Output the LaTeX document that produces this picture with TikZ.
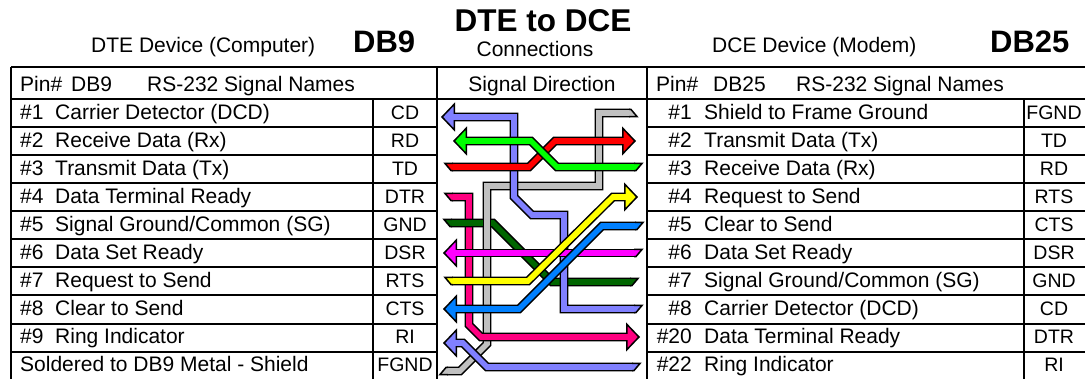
\documentclass[tikz,border=0pt]{standalone}
\usepackage{fontspec}
\setmainfont{Liberation Sans}
\usepackage{tikz}
\usetikzlibrary{arrows.meta}
\definecolor{wireperi}{HTML}{8080FF}
\definecolor{wirered}{HTML}{FF0000}
\definecolor{wiregreen}{HTML}{00FF00}
\definecolor{wiregray}{HTML}{C0C0C0}
\definecolor{wirepink}{HTML}{FF0080}
\definecolor{wiredark}{HTML}{006600}
\definecolor{wiremag}{HTML}{FF00FF}
\definecolor{wireyel}{HTML}{FFFF00}
\definecolor{wireblue}{HTML}{0080FF}
\newcommand{\bodysize}{\fontsize{21}{24}\selectfont}

\begin{document}
\begin{tikzpicture}[
  x=1pt, y=-1pt,
  every node/.style={inner sep=0pt, font=\bodysize},
  txt/.style={anchor=base west},
  code/.style={anchor=base, font=\fontsize{19.5}{24}\selectfont},
  title/.style={anchor=base west, font=\fontsize{31}{36}\selectfont\bfseries},
  grid/.style={line width=1.4pt},
  wire/.style={line width=1.5pt, double=#1, double distance=5.6pt, miter limit=20},
  head/.style={-{Triangle[length=14pt, width=29pt, line width=1.5pt, fill=#1]}},
  tailcap/.pic={\filldraw[pic actions, line width=1.5pt] (1,-3.55) -- (-7,-3.55) -- (-1,3.55) -- (1,3.55);},
]
  \useasboundingbox (0,0) rectangle (1085,379);

  % titles
  \node[txt] (dte) at (91,53) {DTE Device (Computer)};
  \node[title] (db9) at (353,53) {DB9};
  \node[anchor=base, font=\fontsize{31.5}{36}\selectfont\bfseries] (mid) at (543,32) {DTE to DCE};
  \node[anchor=base] (conn) at (535,57) {Connections};
  \node[txt] (dce) at (712,53) {DCE Device (Modem)};
  \node[title] (db25) at (990,53) {DB25};

  % grid
  \draw[grid] (11,67) -- (1085,67);
  \draw[grid] (11,99) -- (1085,99);
  \foreach \rowy in {127,155,183,211,239,267,295,324,352} {
    \draw[grid] (11,\rowy) -- (437,\rowy);
    \draw[grid] (647,\rowy) -- (1085,\rowy);
  }
  \foreach \colx in {11,437,647} \draw[grid] (\colx,67) -- (\colx,379);
  \foreach \colx in {373,1024} \draw[grid] (\colx,99) -- (\colx,379);

  % header row
  \node[txt] (lhpin) at (20,92) {Pin\#};
  \node[txt] (lhdb) at (71,92) {DB9};
  \node[txt] (lhsig) at (147,92) {RS-232 Signal Names};
  \node[anchor=base] (mhead) at (542,92) {Signal Direction};
  \node[txt] (rhpin) at (656,92) {Pin\#};
  \node[txt] (rhdb) at (713,92) {DB25};
  \node[txt] (rhsig) at (796,92) {RS-232 Signal Names};

  % left table
  \foreach \pin/\sname/\scode [count=\i from 0] in {
    \#1/Carrier Detector (DCD)/CD, \#2/Receive Data (Rx)/RD, \#3/Transmit Data (Tx)/TD,
    \#4/Data Terminal Ready/DTR, \#5/{Signal Ground/Common (SG)}/GND, \#6/Data Set Ready/DSR,
    \#7/Request to Send/RTS, \#8/Clear to Send/CTS, \#9/Ring Indicator/RI} {
    \node[txt] (lpin\i) at (20,120+28*\i) {\pin};
    \node[txt] (lname\i) at (55,120+28*\i) {\sname};
    \node[code] (lcode\i) at (405,120+28*\i) {\scode};
  }
  \node[txt] (lshield) at (20,372) {Soldered to DB9 Metal - Shield};
  \node[code] (lfgnd) at (405,372) {FGND};

  % right table
  \foreach \pin/\sname/\scode [count=\i from 0] in {
    \#1/Shield to Frame Ground/FGND, \#2/Transmit Data (Tx)/TD, \#3/Receive Data (Rx)/RD,
    \#4/Request to Send/RTS, \#5/Clear to Send/CTS, \#6/Data Set Ready/DSR,
    \#7/{Signal Ground/Common (SG)}/GND, \#8/Carrier Detector (DCD)/CD,
    \#20/Data Terminal Ready/DTR, \#22/Ring Indicator/RI} {
    \node[anchor=base east] (rpin\i) at (692,120+28*\i) {\pin};
    \node[txt] (rname\i) at (704,120+28*\i) {\sname};
    \node[code] (rcode\i) at (1054,120+28*\i) {\scode};
  }

  % wire ends
  \coordinate (tcd) at (441,117);  \coordinate (ecd) at (635,309);
  \coordinate (trd) at (453,141);  \coordinate (erd) at (635,167);
  \coordinate (ttd) at (636,141);  \coordinate (etd) at (452,167);
  \coordinate (tdtr) at (640,337); \coordinate (edtr) at (452,197);
  \coordinate (egl) at (451,223);  \coordinate (egr) at (631,282);
  \coordinate (tdsr) at (443,253); \coordinate (edsr) at (635,253);
  \coordinate (trts) at (638,197); \coordinate (erts) at (452,281);
  \coordinate (tcts) at (443,309); \coordinate (ects) at (636,226);
  \coordinate (tri) at (443,343);  \coordinate (eri) at (633,367);
  \coordinate (efr) at (630,113);  \coordinate (efl) at (447,371);

  % wires, bottom one first
  \draw[wire=wiregray, line join=miter] (efr) -- (599,113) -- (599,186) -- (487,186) -- (487,344) -- (460,371) -- (efl);
  \pic[draw=black, fill=wiregray, xscale=-1, yscale=-1] at (efr) {tailcap};
  \pic[draw=black, fill=wiregray, yscale=-1] at (efl) {tailcap};

  \draw[wire=wirepink, head=wirepink] (edtr) -- (469,197) -- (469,325) -- (481,337) -- (tdtr);
  \pic[draw=black, fill=wirepink] at (edtr) {tailcap};

  \draw[wire=wiredark] (egl) -- (493,223) -- (552,282) -- (egr);
  \pic[draw=black, fill=wiredark] at (egl) {tailcap};
  \pic[draw=black, fill=wiredark, xscale=-1] at (egr) {tailcap};
  \draw[wire=wiregray] (487,210) -- (487,236);

  \draw[wire=wireperi, head=wireperi] (ecd) -- (564,309) -- (564,215) -- (532,215) -- (514,197) -- (514,117) -- (tcd);
  \pic[draw=black, fill=wireperi, xscale=-1] at (ecd) {tailcap};

  \draw[wire=wirered, head=wirered] (etd) -- (529,167) -- (555,141) -- (ttd);
  \pic[draw=black, fill=wirered] at (etd) {tailcap};

  \draw[wire=wiregreen, head=wiregreen] (erd) -- (557,167) -- (531,141) -- (trd);
  \pic[draw=black, fill=wiregreen, xscale=-1] at (erd) {tailcap};

  \draw[wire=wiremag, head=wiremag] (edsr) -- (tdsr);
  \pic[draw=black, fill=wiremag, xscale=-1] at (edsr) {tailcap};

  \draw[wire=wireperi, head=wireperi] (eri) -- (487,367) -- (463,343) -- (tri);
  \pic[draw=black, fill=wireperi, xscale=-1] at (eri) {tailcap};

  \draw[wire=wireyel, head=wireyel] (erts) -- (528,281) -- (613,197) -- (trts);
  \pic[draw=black, fill=wireyel] at (erts) {tailcap};

  \draw[wire=wireblue, head=wireblue] (ects) -- (602,226) -- (519,309) -- (tcts);
  \pic[draw=black, fill=wireblue, xscale=-1] at (ects) {tailcap};

  % let the colour run from each shaft into its head
  \foreach \tipname/\tipcol/\tipdir in {tcd/wireperi/1, trd/wiregreen/1, tdsr/wiremag/1, tcts/wireblue/1,
    tri/wireperi/1, ttd/wirered/-1, tdtr/wirepink/-1, trts/wireyel/-1}
    \draw[\tipcol, line width=5.6pt] (\tipname) ++(10*\tipdir,0) -- ++(8*\tipdir,0);
\end{tikzpicture}
\end{document}
